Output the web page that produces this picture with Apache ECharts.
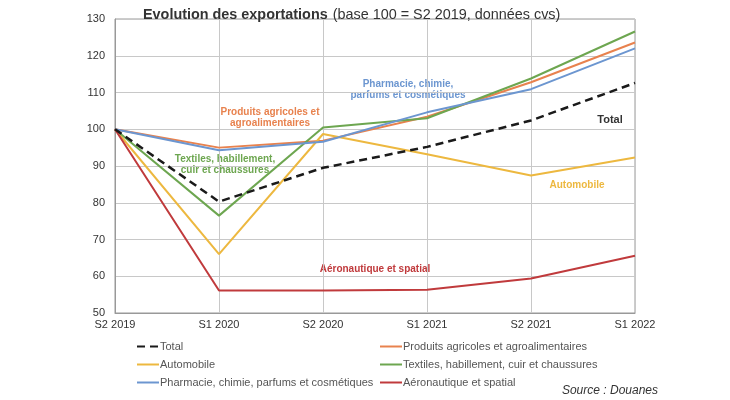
<!DOCTYPE html>
<html><head><meta charset="utf-8">
<script src="https://cdn.jsdelivr.net/npm/echarts@6/dist/echarts.min.js"></script>
<style>html,body{margin:0;padding:0;background:#fff}#c{width:730px;height:400px}</style>
</head><body><div id="c"></div>
<script>
const categories = ['S2 2019','S1 2020','S2 2020','S1 2021','S2 2021','S1 2022'];
const total = [100, 80.3, 89.5, 95.2, 102.4, 112.6];
const agri = [100, 95.0, 96.9, 103.4, 112.8, 123.6];
const auto = [100, 66.0, 98.7, 93.2, 87.4, 92.3];
const textiles = [100, 76.5, 100.5, 103.0, 113.8, 126.6];
const pharma = [100, 94.3, 96.6, 104.6, 110.9, 122.0];
const aero = [100, 56.1, 56.1, 56.3, 59.4, 65.6];
const yTicks = [50, 60, 70, 80, 90, 100, 110, 120, 130];

const C = {total:'#1a1a1a', agri:'#E8824E', auto:'#EDB83F', tex:'#6DA650', pharma:'#6C96D0', aero:'#C03A3C'};
const font = 'Liberation Sans, Arial, sans-serif';

function line(name, data, color, dashed) {
  return {
    name, type:'line', data, symbol:'none', showSymbol:false, smooth:false,
    lineStyle:{color, width: dashed ? 2.5 : 2, type: dashed ? [8,5] : 'solid'},
    itemStyle:{color}, z: dashed ? 10 : 5
  };
}

const legendCommon = {
  orient:'vertical', top:336, itemWidth:22, itemHeight:10, itemGap:7,
  itemStyle:{opacity:0, borderWidth:0},
  lineStyle:{width:2},
  textStyle:{fontFamily:font, fontSize:11, color:'#555', padding:[0,0,0,-4]}
};

const chart = echarts.init(document.getElementById('c'), null, {renderer:'canvas'});
chart.setOption({
  animation:false,
  backgroundColor:'#fff',
  title:{
    text:'{b|Evolution des exportations} {n|(base 100 = S2 2019, données cvs)}',
    left:138, top:1,
    textStyle:{fontWeight:'normal', rich:{
      b:{fontFamily:font, fontSize:14.4, fontWeight:'bold', color:'#333'},
      n:{fontFamily:font, fontSize:14.4, fontWeight:'normal', color:'#333'}
    }}
  },
  grid:{left:115, right:95, top:19, bottom:87, show:true, borderColor:'#999', borderWidth:1},
  xAxis:{
    type:'category', data:categories, boundaryGap:false,
    axisLine:{lineStyle:{color:'#999'}}, axisTick:{show:false},
    axisLabel:{color:'#333', fontFamily:font, fontSize:11, margin:6},
    splitLine:{show:true, lineStyle:{color:'#c8c8c8', width:1}}
  },
  yAxis:{
    type:'value', min:yTicks[0], max:yTicks[yTicks.length-1], interval:10,
    axisLine:{show:true, lineStyle:{color:'#999'}}, axisTick:{show:false},
    axisLabel:{color:'#333', fontFamily:font, fontSize:11, margin:10},
    splitLine:{show:true, lineStyle:{color:'#c8c8c8', width:1}}
  },
  legend:[
    Object.assign({data:['Total','Automobile','Pharmacie, chimie, parfums et cosmétiques'], left:131}, legendCommon),
    Object.assign({data:['Produits agricoles et agroalimentaires','Textiles, habillement, cuir et chaussures','Aéronautique et spatial'], left:374}, legendCommon)
  ],
  series:[
    line('Total', total, C.total, true),
    line('Produits agricoles et agroalimentaires', agri, C.agri),
    line('Automobile', auto, C.auto),
    line('Textiles, habillement, cuir et chaussures', textiles, C.tex),
    line('Pharmacie, chimie, parfums et cosmétiques', pharma, C.pharma),
    line('Aéronautique et spatial', aero, C.aero)
  ],
  graphic:[
    {type:'text', x:270, y:118, style:{text:'Produits agricoles et\nagroalimentaires', align:'center', verticalAlign:'middle', fill:C.agri, font:'bold 10px '+font, lineHeight:11}},
    {type:'text', x:225, y:165, style:{text:'Textiles, habillement,\ncuir et chaussures', align:'center', verticalAlign:'middle', fill:C.tex, font:'bold 10px '+font, lineHeight:11}},
    {type:'text', x:408, y:90, style:{text:'Pharmacie, chimie,\nparfums et cosmétiques', align:'center', verticalAlign:'middle', fill:C.pharma, font:'bold 10px '+font, lineHeight:11}},
    {type:'text', x:610, y:120, style:{text:'Total', align:'center', verticalAlign:'middle', fill:'#333', font:'bold 11px '+font}},
    {type:'text', x:577, y:185, style:{text:'Automobile', align:'center', verticalAlign:'middle', fill:C.auto, font:'bold 10px '+font}},
    {type:'text', x:375, y:269, style:{text:'Aéronautique et spatial', align:'center', verticalAlign:'middle', fill:C.aero, font:'bold 10px '+font}},
    {type:'text', x:658, y:391, style:{text:'Source : Douanes', align:'right', verticalAlign:'middle', fill:'#333', font:'italic 12px '+font}}
  ]
});
</script></body></html>
